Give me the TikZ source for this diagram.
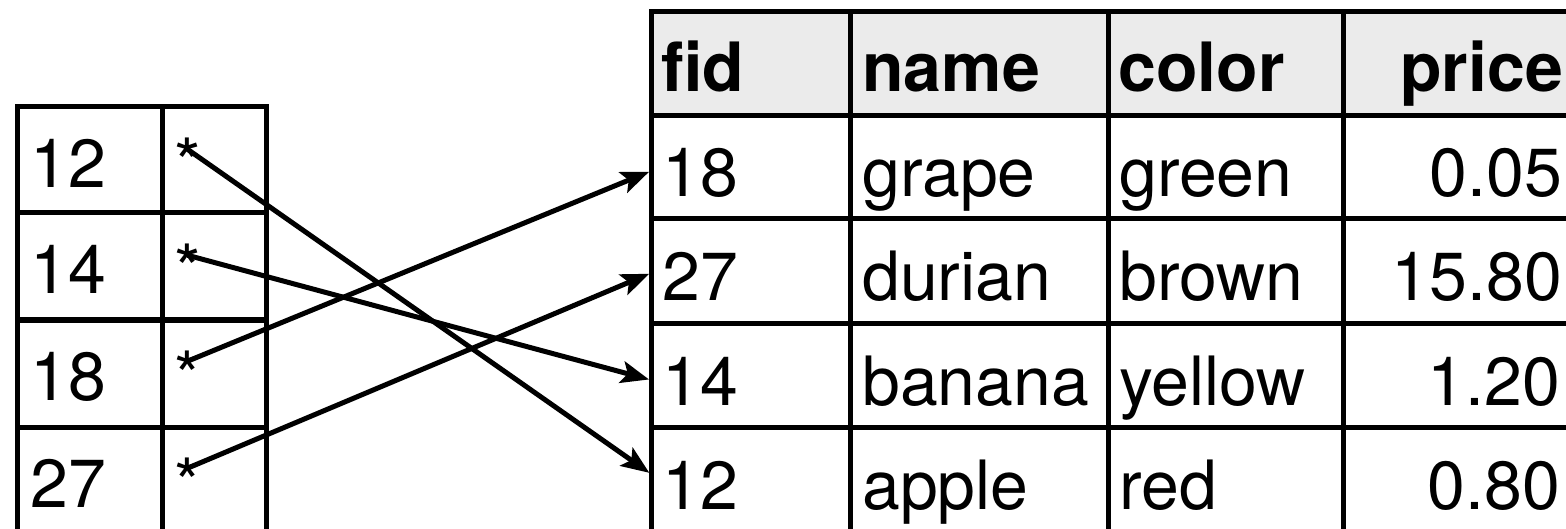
\documentclass[tikz,border=0pt]{standalone}
\usepackage{fontspec}
\setmainfont{TeX Gyre Heros}
\usetikzlibrary{arrows.meta}
\definecolor{headgray}{HTML}{EBEBEB}
\newcommand{\cellfont}{\fontsize{68}{80}\selectfont}
\tikzset{
  grid/.style={line width=5pt, line cap=rect},
  cell/.style={inner sep=0pt, anchor=base west, font=\cellfont},
  rcell/.style={inner sep=0pt, anchor=base east, font=\cellfont},
  head/.style={cell, font=\cellfont\bfseries},
  rhead/.style={rcell, font=\cellfont\bfseries},
  ptr/.style={line width=5pt, -{Stealth[length=28pt,width=22pt,inset=6pt]}, shorten >=2pt}
}
\begin{document}
\begin{tikzpicture}[x=1pt,y=-1pt]
\useasboundingbox (0,0) rectangle (1566,529);
\clip (0,0) rectangle (1566,529);

% index: key and pointer columns
\foreach \y in {107,213,320,427} \draw[grid] (17,\y) -- (266,\y);
\foreach \x in {17,162,266} \draw[grid] (\x,107) -- (\x,545);

\node[cell] (k12) at (30,188) {12};
\node[cell] (k14) at (30,294) {14};
\node[cell] (k18) at (30,400) {18};
\node[cell] (k27) at (30,507) {27};
\node[cell] (s12) at (174,188) {*};
\node[cell] (s14) at (174,294) {*};
\node[cell] (s18) at (174,400) {*};
\node[cell] (s27) at (174,507) {*};

% fruit table
\fill[headgray] (651,12) rectangle (1590,116);
\foreach \y in {12,116,219,323,427} \draw[grid] (651,\y) -- (1590,\y);
\foreach \x in {651,850,1108,1343} \draw[grid] (\x,12) -- (\x,545);

\node[head] (hfid) at (661,92) {fid};
\node[head] (hname) at (862,92) {name};
\node[head] (hcolor) at (1118,92) {color};
\node[rhead] (hprice) at (1563,92) {price};

\node[cell] (f18) at (662,197) {18};
\node[cell] (n18) at (862,197) {grape};
\node[cell] (c18) at (1119,197) {green};
\node[rcell] (p18) at (1562,197) {0.05};

\node[cell] (f27) at (662,301) {27};
\node[cell] (n27) at (862,301) {durian};
\node[cell] (c27) at (1119,301) {brown};
\node[rcell] (p27) at (1562,301) {15.80};

\node[cell] (f14) at (662,405) {14};
\node[cell] (n14) at (862,405) {banana};
\node[cell] (c14) at (1119,405) {yellow};
\node[rcell] (p14) at (1560,405) {1.20};

\node[cell] (f12) at (662,509) {12};
\node[cell] (n12) at (862,509) {apple};
\node[cell] (c12) at (1119,509) {red};
\node[rcell] (p12) at (1560,509) {0.80};

% row entry points on the table's left edge
\coordinate (t18) at (651,171);
\coordinate (t27) at (651,273);
\coordinate (t14) at (651,380);
\coordinate (t12) at (651,474);

% pointers
\draw[ptr] ([yshift=-11pt]s12.north) -- (t12);
\draw[ptr] ([yshift=-11pt]s14.north) -- (t14);
\draw[ptr] ([yshift=-11pt]s18.north) -- (t18);
\draw[ptr] ([yshift=-11pt]s27.north) -- (t27);
\end{tikzpicture}
\end{document}
